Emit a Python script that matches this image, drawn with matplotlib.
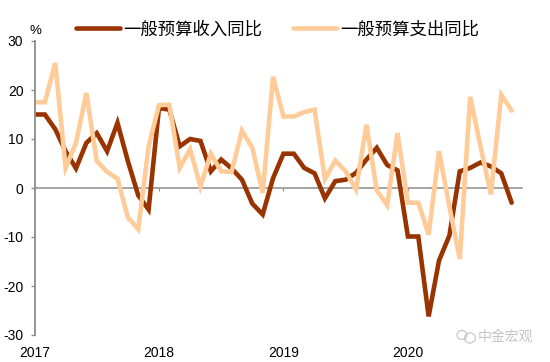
import matplotlib
matplotlib.use("Agg")
import matplotlib.pyplot as plt
from matplotlib.patches import Ellipse

plt.rcParams["font.family"] = ["Liberation Sans", "Noto Sans CJK SC", "DejaVu Sans"]
plt.rcParams["axes.unicode_minus"] = False

REVENUE_COLOR = "#993300"
SPENDING_COLOR = "#FFCC99"
AXIS_COLOR = "#8C8C8C"

years = ["2017", "2018", "2019", "2020"]
year_positions = [0, 12, 24, 36]
y_ticks = [-30, -20, -10, 0, 10, 20, 30]

revenue = [15, 15, 12, 7.5, 4, 9.2, 11.2, 7.5, 13.3, 5.5, -1.5, -4.4,
           16.3, 16, 8.5, 10, 9.6, 3.4, 5.8, 4, 1.7, -3.2, -5.4, 2,
           7, 7, 4.1, 3, -2.1, 1.4, 1.7, 3.1, 5.8, 8.2, 4.7, 3.6,
           -9.9, -9.9, -26.2, -14.8, -9.7, 3.4, 4.1, 5.2, 4.4, 3, -3]
spending = [17.5, 17.5, 25.5, 4.1, 9.2, 19.4, 5.5, 3.3, 1.9, -6, -8.4, 8.5,
            16.9, 17, 4.1, 7.9, 0.3, 7, 3.4, 3.3, 11.7, 8.2, -1, 22.7,
            14.6, 14.6, 15.5, 16, 1.8, 5.6, 3.4, -0.3, 12.9, -0.5, -3.5, 11.2,
            -3, -3, -9.5, 7.5, -3.8, -14.5, 18.6, 8.5, -1.3, 19, 15.8]

fig = plt.figure(figsize=(5.5, 3.62), dpi=100)
ax = fig.add_axes([34.5 / 550, 1 - 335 / 362, (522 - 34.5) / 550, 294 / 362])

months = range(len(revenue))
ax.plot(months, revenue, color=REVENUE_COLOR, lw=3.3, label="一般预算收入同比",
        solid_joinstyle="miter", solid_capstyle="round")
ax.plot(months, spending, color=SPENDING_COLOR, lw=3.3, label="一般预算支出同比",
        solid_joinstyle="miter", solid_capstyle="round")

ax.set_xlim(0, 47)
ax.set_ylim(-30, 30)
ax.set_yticks(y_ticks)
ax.set_xticks(year_positions[1:])
ax.set_xticklabels([])

for side in ["top", "right"]:
    ax.spines[side].set_visible(False)
ax.spines["left"].set_color(AXIS_COLOR)
ax.spines["left"].set_linewidth(1.3)
# x axis line and ticks sit on the zero line, labels stay at the bottom
ax.spines["bottom"].set_position(("data", 0))
ax.spines["bottom"].set_color(AXIS_COLOR)
ax.spines["bottom"].set_linewidth(1.1)
ax.spines["bottom"].set_zorder(1)
ax.tick_params(axis="y", color=AXIS_COLOR, length=3, width=1, labelsize=10, pad=5, labelcolor="black")
ax.tick_params(axis="x", color=AXIS_COLOR, length=2, width=0.8, direction="out")

for year, pos in zip(years, year_positions):
    ax.annotate(year, (pos, -30), xytext=(0, -8), textcoords="offset points",
                ha="center", va="top", fontsize=10)
ax.text(35 / 550, 1 - 31 / 362, "%", transform=fig.transFigure, ha="center", va="center", fontsize=9.5)

fig.legend(loc="center", bbox_to_anchor=(277.5 / 550, 1 - 29 / 362), ncol=2, frameon=False,
           fontsize=12.5, handlelength=2.55, handletextpad=0.2, columnspacing=1.75,
           borderpad=0, borderaxespad=0)

# watermark
fig.add_artist(Ellipse((462 / 550, 1 - 335 / 362), 10 / 550, 9 / 362, fill=False, ec="#C8C8C8", lw=0.9))
fig.add_artist(Ellipse((470 / 550, 1 - 338 / 362), 11 / 550, 10 / 362, fill=False, ec="#C8C8C8", lw=0.9))
fig.text(478 / 550, 1 - 337 / 362, "中金宏观", color="#C4C4C4", fontsize=10, ha="left", va="center")

fig.savefig("out.png", dpi=100)
